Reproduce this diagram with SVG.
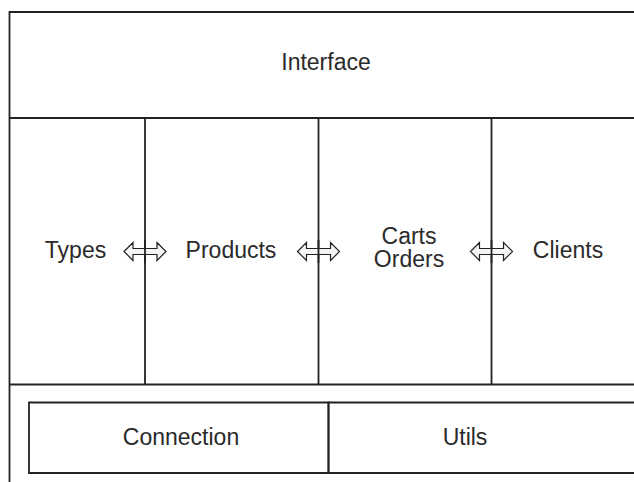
<svg xmlns="http://www.w3.org/2000/svg" width="634" height="482" viewBox="0 0 634 482">
  <style>
    .frame { fill: none; stroke: #222; stroke-width: 1.8; }
    .lbl { font-family: "Liberation Sans", Arial, sans-serif; font-size: 23px; fill: #2a2a2a; text-anchor: middle; }
    .link { fill: #f4f4f4; stroke: #222; stroke-width: 1.2; stroke-linejoin: miter; }
  </style>
  <defs>
    <!-- double-headed block arrow, centred on the origin -->
    <path id="dbl" d="M -21 0 L -12 -9 L -12 -3 L 12 -3 L 12 -9 L 21 0 L 12 9 L 12 3 L -12 3 L -12 9 Z"/>
  </defs>
  <rect width="634" height="482" fill="#fff"/>

  <!-- outer frame, running off the right and bottom edges -->
  <g id="frame">
    <path class="frame" d="M 9.5 500 L 9.5 12 L 640 12"/>
    <line class="frame" x1="9.5" y1="118" x2="640" y2="118"/>
    <line class="frame" x1="9.5" y1="384.5" x2="640" y2="384.5"/>
  </g>

  <g id="interface">
    <text class="lbl" x="326" y="69.5">Interface</text>
  </g>

  <g id="columns">
    <line class="frame" x1="145" y1="118" x2="145" y2="384.5"/>
    <line class="frame" x1="318.5" y1="118" x2="318.5" y2="384.5"/>
    <line class="frame" x1="491.5" y1="118" x2="491.5" y2="384.5"/>
  </g>

  <g id="types">
    <text class="lbl" x="75.5" y="257.5">Types</text>
  </g>
  <g id="products">
    <text class="lbl" x="231" y="257.5">Products</text>
  </g>
  <g id="carts-orders">
    <text class="lbl" x="409" y="243.5">Carts</text>
    <text class="lbl" x="409" y="267">Orders</text>
  </g>
  <g id="clients">
    <text class="lbl" x="568" y="257.5">Clients</text>
  </g>

  <g id="connectors">
    <use href="#dbl" class="link" transform="translate(145 251.5)"/>
    <use href="#dbl" class="link" transform="translate(318.5 251.5)"/>
    <use href="#dbl" class="link" transform="translate(491.5 251.5)"/>
    <line x1="145" y1="240" x2="145" y2="263" stroke="#222" stroke-width="1.8"/>
    <line x1="318.5" y1="240" x2="318.5" y2="263" stroke="#222" stroke-width="1.8"/>
    <line x1="491.5" y1="240" x2="491.5" y2="263" stroke="#222" stroke-width="1.8"/>
  </g>

  <g id="connection">
    <path class="frame" d="M 328.5 402.5 L 29 402.5 L 29 473 L 328.5 473 Z"/>
    <text class="lbl" x="181" y="444.5">Connection</text>
  </g>
  <g id="utils">
    <path class="frame" d="M 640 402.5 L 328.5 402.5 L 328.5 473 L 640 473"/>
    <text class="lbl" x="465" y="444.5">Utils</text>
  </g>
</svg>
